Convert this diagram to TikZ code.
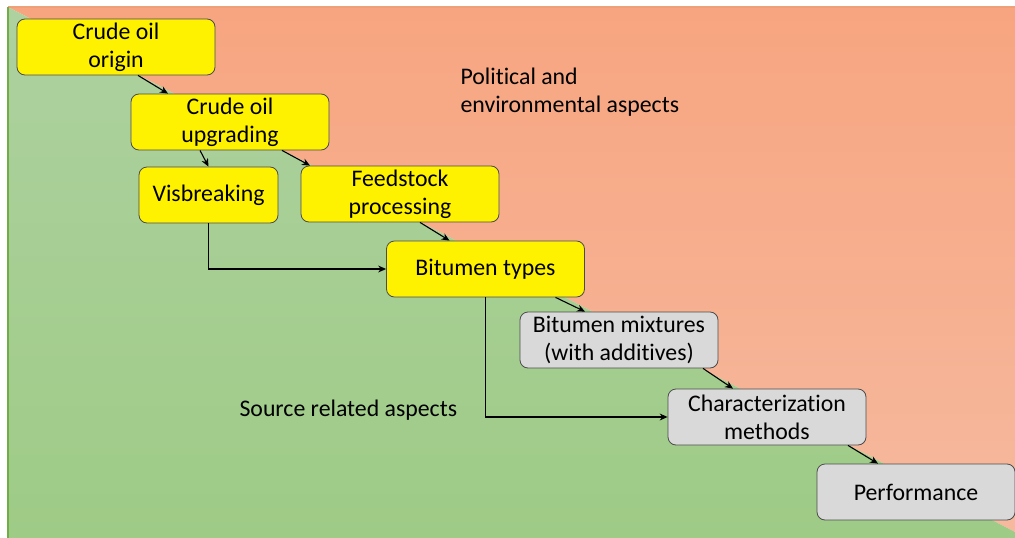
\documentclass[tikz,border=0pt]{standalone}
\usepackage{fontspec}
\setmainfont{Carlito}[Ligatures=NoCommon]
\usepackage{tikz}
\usetikzlibrary{arrows.meta}

\definecolor{salmontop}{RGB}{247,165,128}
\definecolor{salmonbot}{RGB}{246,185,158}
\definecolor{salmonline}{RGB}{240,160,120}
\definecolor{greentop}{RGB}{174,209,160}
\definecolor{greenbot}{RGB}{158,203,134}
\definecolor{greenline}{RGB}{112,173,71}
\definecolor{boxgrey}{RGB}{217,217,217}

\begin{document}
\begin{tikzpicture}[x=1pt,y=-1pt,
    box/.style={draw=black!70, line width=0.8pt, rounded corners=8pt,
      minimum width=198pt, minimum height=56pt, inner sep=2pt,
      align=center, font=\fontsize{23.8}{28}\selectfont},
    yellowbox/.style={box, fill=yellow},
    greybox/.style={box, fill=boxgrey},
    link/.style={-{Stealth[length=8pt,width=7pt]}, line width=1.1pt},
    aspect/.style={anchor=west, align=left, font=\fontsize{23.8}{28}\selectfont}]
  \useasboundingbox (0,0) rectangle (1015,538);
  \fill [white] (0,0) rectangle (1015,538);
  % two backgrounds split along the diagonal
  \shade [top color=salmontop, bottom color=salmonbot] (8,7) -- (1015,7) -- (1015,532) -- cycle;
  \shade [top color=greentop, bottom color=greenbot] (8,7) -- (1015,532) -- (1015,538) -- (8,538) -- cycle;
  \draw [salmonline, line width=1.5pt] (8,7) -- (1015,7);
  \draw [greenline, line width=1.5pt] (8,7) -- (8,538);

  \node [aspect] (political) at (457,92) {Political and\\environmental aspects};
  \node [aspect] (source) at (236,410) {Source related aspects};

  \node [yellowbox] (origin) at (116,47) {Crude oil\\origin};
  \node [yellowbox] (upgrading) at (230,122) {Crude oil\\upgrading};
  \node [yellowbox, minimum width=139pt] (visbreaking) at (208.5,195) {Visbreaking};
  \node [yellowbox] (feedstock) at (400,194) {Feedstock\\processing};
  \node [yellowbox] (types) at (485.5,269) {Bitumen types};
  \node [greybox] (mixtures) at (619,340) {Bitumen mixtures\\(with additives)};
  \node [greybox] (methods) at (767,417) {Characterization\\methods};
  \node [greybox] (performance) at (916,492) {Performance};

  \draw [link] ([xshift=22pt]origin.south) -- ([xshift=-62pt]upgrading.north);
  \draw [link] ([xshift=-30pt]upgrading.south) -- (visbreaking.north);
  \draw [link] ([xshift=52pt]upgrading.south) -- ([xshift=-90pt]feedstock.north);
  \draw [link] ([xshift=20pt]feedstock.south) -- ([xshift=-36pt]types.north);
  \draw [link] (visbreaking.south) |- (types.west);
  \draw [link] (types.south) |- (methods.west);
  \draw [link] ([xshift=70pt]types.south) -- ([xshift=-34pt]mixtures.north);
  \draw [link] ([xshift=84pt]mixtures.south) -- ([xshift=-34pt]methods.north);
  \draw [link] ([xshift=81pt]methods.south) -- ([xshift=-38pt]performance.north);
\end{tikzpicture}
\end{document}
